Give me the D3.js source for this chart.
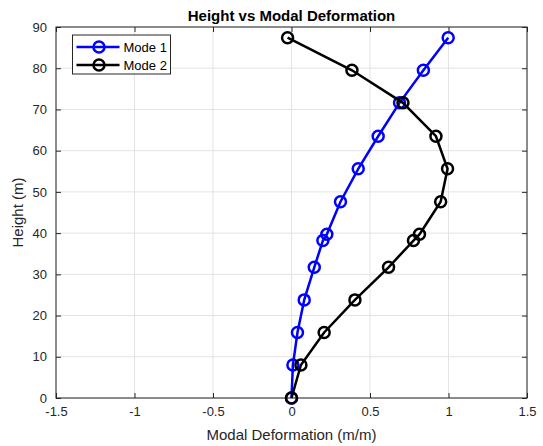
<!DOCTYPE html>
<html>
<head>
<meta charset="utf-8">
<script src="https://cdn.jsdelivr.net/npm/d3@7"></script>
<style>
  body { margin: 0; background: #fff; }
  svg { font-family: "Liberation Sans", Arial, sans-serif; }
</style>
</head>
<body>
<div id="chart"></div>
<script>
// data
var heights = [0, 8, 15.9, 23.8, 31.7, 38.2, 39.7, 47.6, 55.6, 63.5, 71.6, 79.5, 87.4];
var mode1 = [0, 0.009, 0.038, 0.081, 0.145, 0.2, 0.225, 0.312, 0.425, 0.552, 0.688, 0.84, 0.998];
var mode2 = [0, 0.06, 0.208, 0.404, 0.618, 0.777, 0.815, 0.95, 0.994, 0.92, 0.71, 0.385, -0.025];
var seriesNames = ["Mode 1", "Mode 2"];
var seriesColors = ["#0000ff", "#000000"];
var xTicks = [-1.5, -1, -0.5, 0, 0.5, 1, 1.5];
var yTicks = [0, 10, 20, 30, 40, 50, 60, 70, 80, 90];

var W = 543, H = 446;
var margin = {top: 27, right: 16, bottom: 48, left: 56},
    width = W - margin.left - margin.right,
    height = H - margin.top - margin.bottom;

var svg = d3.select("#chart")
  .append("svg")
    .attr("width", W)
    .attr("height", H)
  .append("g")
    .attr("transform", "translate(" + margin.left + "," + margin.top + ")");

var x = d3.scaleLinear().domain([-1.5, 1.5]).range([0, width]);
var y = d3.scaleLinear().domain([0, 90]).range([height, 0]);

// grid
svg.append("g")
  .selectAll("line")
  .data(xTicks)
  .enter().append("line")
    .attr("x1", function(d) { return x(d); })
    .attr("x2", function(d) { return x(d); })
    .attr("y1", 0).attr("y2", height)
    .style("stroke", "#e3e3e3").style("stroke-width", 1);
svg.append("g")
  .selectAll("line")
  .data(yTicks)
  .enter().append("line")
    .attr("y1", function(d) { return y(d); })
    .attr("y2", function(d) { return y(d); })
    .attr("x1", 0).attr("x2", width)
    .style("stroke", "#e3e3e3").style("stroke-width", 1);

// axes (MATLAB style: ticks inside, box all round)
var fmt = function(d) { return String(d); };
var axCol = "#262626";
function styleAxis(g) {
  g.select(".domain").remove();
  g.selectAll(".tick line").style("stroke", axCol);
  g.selectAll(".tick text").style("fill", axCol).style("font-size", "13px");
}
svg.append("g")
  .attr("transform", "translate(0," + height + ")")
  .call(d3.axisBottom(x).tickValues(xTicks).tickFormat(fmt).tickSizeInner(-5).tickSizeOuter(0).tickPadding(9))
  .call(styleAxis);
svg.append("g")
  .call(d3.axisTop(x).tickValues(xTicks).tickFormat("").tickSizeInner(-5).tickSizeOuter(0))
  .call(styleAxis);
svg.append("g")
  .call(d3.axisLeft(y).tickValues(yTicks).tickFormat(fmt).tickSizeInner(-5).tickSizeOuter(0).tickPadding(9))
  .call(styleAxis);
svg.append("g")
  .attr("transform", "translate(" + width + ",0)")
  .call(d3.axisRight(y).tickValues(yTicks).tickFormat("").tickSizeInner(-5).tickSizeOuter(0))
  .call(styleAxis);
svg.append("rect")
  .attr("x", 0).attr("y", 0).attr("width", width).attr("height", height)
  .style("fill", "none").style("stroke", axCol).style("stroke-width", 1);

// series
var series = [mode1, mode2];
var line = d3.line()
  .x(function(d) { return x(d[0]); })
  .y(function(d) { return y(d[1]); });

series.forEach(function(vals, i) {
  var pts = vals.map(function(v, j) { return [v, heights[j]]; });
  svg.append("path")
    .datum(pts)
    .attr("d", line)
    .style("fill", "none")
    .style("stroke", seriesColors[i])
    .style("stroke-width", 2.5);
  svg.append("g")
    .selectAll("circle")
    .data(pts)
    .enter().append("circle")
      .attr("cx", function(d) { return x(d[0]); })
      .attr("cy", function(d) { return y(d[1]); })
      .attr("r", 5.5)
      .style("fill", "none")
      .style("stroke", seriesColors[i])
      .style("stroke-width", 2.5);
});

// legend
var lg = svg.append("g").attr("transform", "translate(16.5,8)");
lg.append("rect")
  .attr("width", 98).attr("height", 39)
  .style("fill", "#fff").style("stroke", axCol).style("stroke-width", 1);
seriesNames.forEach(function(name, i) {
  var yy = 12 + i * 18;
  lg.append("line")
    .attr("x1", 4).attr("x2", 47).attr("y1", yy).attr("y2", yy)
    .style("stroke", seriesColors[i]).style("stroke-width", 2.5);
  lg.append("circle")
    .attr("cx", 26.5).attr("cy", yy).attr("r", 5.5)
    .style("fill", "none").style("stroke", seriesColors[i]).style("stroke-width", 2.5);
  lg.append("text")
    .attr("x", 51).attr("y", yy + 5)
    .text(name)
    .style("font-size", "13px").style("fill", "#000");
});

// title and labels
svg.append("text")
  .attr("text-anchor", "middle")
  .attr("x", width / 2).attr("y", -6)
  .text("Height vs Modal Deformation")
  .style("font-size", "15px").style("font-weight", "bold").style("fill", "#000");
svg.append("text")
  .attr("text-anchor", "middle")
  .attr("x", width / 2).attr("y", height + 42)
  .text("Modal Deformation (m/m)")
  .style("font-size", "15px").style("fill", axCol);
svg.append("text")
  .attr("text-anchor", "middle")
  .attr("transform", "rotate(-90)")
  .attr("x", -height / 2).attr("y", -33)
  .text("Height (m)")
  .style("font-size", "15px").style("fill", axCol);
</script>
</body>
</html>
